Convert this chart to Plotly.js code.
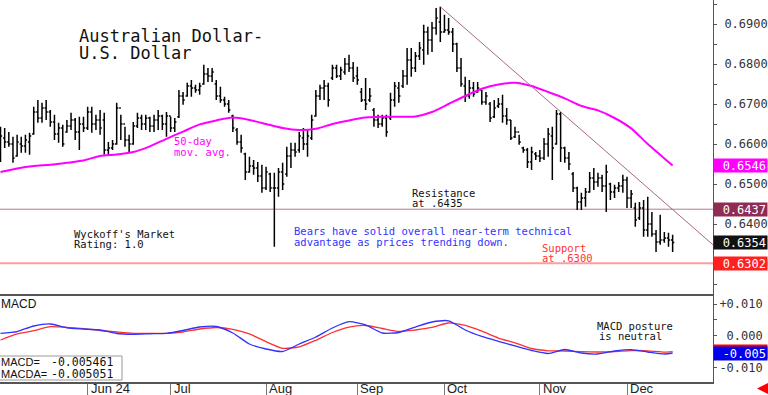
<!DOCTYPE html>
<html><head><meta charset="utf-8">
<script src="https://cdn.plot.ly/plotly-3.0.1.min.js"></script>
<style>html,body{margin:0;padding:0;background:#fff;}#chart{width:768px;height:395px;}</style>
</head><body><div id="chart"></div>
<script>
// ---------- data (AUD/USD daily bars, May 3 – Dec 17 2024, weekdays) ----------
const startDate = '2024-05-03';
const opens = [
.6560,.6615,.6605,.6600,.6570,.6600,.6595,.6605,.6625,.6680,
.6665,.6690,.6680,.6655,.6625,.6640,.6630,.6645,.6660,.6630,
.6650,.6640,.6680,.6650,.6660,.6660,.6585,.6590,.6600,.6690,
.6650,.6610,.6600,.6645,.6665,.6650,.6665,.6645,.6660,.6670,
.6650,.6670,.6640,.6668,.6720,.6720,.6745,.6740,.6735,.6750,
.6775,.6770,.6750,.6720,.6710,.6700,.6670,.6635,.6605,.6575,
.6530,.6545,.6540,.6520,.6490,.6525,.6490,.6490,.6530,.6525,
.6570,.6585,.6585,.6615,.6600,.6615,.6670,.6720,.6740,.6745,
.6765,.6790,.6770,.6780,.6800,.6790,.6770,.6730,.6710,.6710,
.6685,.6660,.6650,.6665,.6665,.6710,.6740,.6745,.6770,.6810,
.6790,.6820,.6835,.6880,.6860,.6890,.6905,.6880,.6885,.6880,
.6850,.6790,.6745,.6720,.6740,.6730,.6735,.6705,.6700,.6668,
.6695,.6700,.6670,.6660,.6618,.6630,.6590,.6585,.6555,.6575,
.6570,.6565,.6600,.6620,.6600,.6675,.6590,.6565,.6525,.6490,
.6455,.6465,.6480,.6515,.6505,.6515,.6495,.6500,.6480,.6490,
.6495,.6510,.6465,.6440,.6415,.6440,.6385,.6400,.6375,.6355,
.6360,.6365,.6360];
const highs = [
.6643,.6640,.6630,.6618,.6623,.6618,.6623,.6628,.6693,.6710,
.6703,.6710,.6685,.6673,.6653,.6648,.6660,.6678,.6665,.6668,
.6668,.6693,.6693,.6673,.6685,.6678,.6605,.6610,.6703,.6673,
.6643,.6623,.6655,.6678,.6673,.6673,.6668,.6673,.6685,.6673,
.6680,.6668,.6665,.6735,.6730,.6753,.6760,.6748,.6753,.6798,
.6790,.6790,.6760,.6743,.6718,.6710,.6673,.6640,.6623,.6578,
.6568,.6560,.6555,.6548,.6543,.6528,.6528,.6540,.6553,.6593,
.6603,.6603,.6630,.6640,.6635,.6673,.6735,.6748,.6760,.6753,
.6798,.6798,.6793,.6815,.6823,.6805,.6793,.6740,.6765,.6740,
.6690,.6673,.6673,.6673,.6728,.6755,.6755,.6785,.6840,.6840,
.6830,.6855,.6898,.6893,.6905,.6940,.6943,.6923,.6915,.6890,
.6853,.6815,.6768,.6760,.6755,.6755,.6735,.6730,.6705,.6710,
.6715,.6723,.6690,.6660,.6643,.6623,.6593,.6590,.6593,.6580,
.6585,.6615,.6640,.6643,.6685,.6680,.6593,.6580,.6530,.6493,
.6478,.6490,.6530,.6540,.6528,.6523,.6548,.6503,.6498,.6505,
.6523,.6518,.6485,.6453,.6455,.6460,.6468,.6430,.6385,.6423,
.6380,.6378,.6373];
const lows = [
.6555,.6590,.6593,.6553,.6568,.6578,.6578,.6573,.6623,.6653,
.6653,.6660,.6643,.6610,.6603,.6593,.6628,.6635,.6610,.6585,
.6630,.6635,.6628,.6635,.6623,.6573,.6573,.6585,.6598,.6610,
.6593,.6580,.6598,.6640,.6635,.6635,.6630,.6630,.6635,.6635,
.6618,.6630,.6630,.6665,.6698,.6718,.6718,.6728,.6723,.6748,
.6755,.6755,.6710,.6703,.6693,.6678,.6630,.6598,.6578,.6510,
.6528,.6523,.6505,.6478,.6485,.6480,.6343,.6468,.6485,.6518,
.6540,.6568,.6578,.6585,.6568,.6610,.6668,.6710,.6710,.6693,
.6760,.6765,.6760,.6773,.6780,.6755,.6748,.6705,.6685,.6705,
.6643,.6640,.6643,.6618,.6660,.6693,.6703,.6740,.6748,.6768,
.6780,.6810,.6798,.6823,.6830,.6873,.6855,.6878,.6873,.6830,
.6780,.6743,.6705,.6713,.6718,.6728,.6698,.6698,.6655,.6665,
.6690,.6653,.6648,.6610,.6615,.6598,.6578,.6540,.6535,.6560,
.6555,.6560,.6568,.6510,.6598,.6555,.6553,.6535,.6480,.6435,
.6435,.6443,.6478,.6485,.6493,.6480,.6430,.6460,.6465,.6480,
.6478,.6440,.6440,.6393,.6410,.6368,.6368,.6368,.6330,.6348,
.6353,.6343,.6330];
const closes = [
.6620,.6605,.6600,.6565,.6605,.6595,.6610,.6620,.6680,.6665,
.6690,.6680,.6655,.6625,.6640,.6600,.6645,.6660,.6630,.6650,
.6640,.6680,.6650,.6660,.6640,.6585,.6590,.6600,.6690,.6650,
.6610,.6600,.6645,.6665,.6650,.6665,.6645,.6660,.6670,.6650,
.6670,.6640,.6655,.6720,.6710,.6745,.6740,.6735,.6745,.6775,
.6770,.6780,.6720,.6710,.6700,.6685,.6640,.6605,.6590,.6530,
.6545,.6540,.6520,.6490,.6530,.6490,.6490,.6530,.6500,.6570,
.6585,.6580,.6620,.6600,.6620,.6660,.6720,.6740,.6745,.6710,
.6790,.6770,.6785,.6800,.6790,.6765,.6760,.6710,.6700,.6720,
.6660,.6650,.6665,.6630,.6710,.6745,.6720,.6770,.6810,.6790,
.6820,.6840,.6880,.6860,.6890,.6915,.6880,.6885,.6880,.6850,
.6790,.6750,.6720,.6740,.6725,.6740,.6705,.6720,.6665,.6690,
.6700,.6670,.6660,.6615,.6630,.6605,.6585,.6555,.6580,.6570,
.6565,.6600,.6625,.6590,.6675,.6590,.6565,.6550,.6490,.6455,
.6465,.6480,.6515,.6505,.6515,.6495,.6530,.6480,.6490,.6495,
.6510,.6465,.6475,.6410,.6440,.6385,.6400,.6375,.6355,.6360,
.6365,.6360,.6354];

// indicator readings, taken every 4th bar (bar index)
const lineIdx = [0,4,8,12,16,20,24,28,32,36,40,44,48,52,56,60,64,68,72,76,80,84,88,92,96,100,104,108,112,116,120,124,128,132,136,140,144,148,152,156,160,162];
const movAvg50 = [.6530,.6539,.6545,.6548,.6553,.6559,.6570,.6574,.6580,.6594,.6613,.6631,.6649,.6659,.6666,.6660,.6650,.6640,.6635,.6638,.6650,.6659,.6666,.6668,.6668,.6669,.6680,.6700,.6720,.6738,.6749,.6753,.6745,.6730,.6714,.6695,.6684,.6665,.6639,.6600,.6564,.6546];
const macd = [0.00076,0.00132,0.00306,0.00369,0.00249,0.00211,0.00180,0.00069,0.00044,0.00060,0.00076,0.00164,0.00274,0.00290,0.00085,-0.00262,-0.00420,-0.00498,-0.00262,-0.00041,0.00243,0.00442,0.00338,0.00085,0.00101,0.00274,0.00432,0.00470,0.00180,-0.00025,-0.00177,-0.00325,-0.00467,-0.00562,-0.00435,-0.00546,-0.00577,-0.00483,-0.00438,-0.00514,-0.00577,-0.005461];
const macdA = [-0.00136,0.00054,0.00158,0.00284,0.00265,0.00224,0.00164,0.00117,0.00076,0.00076,0.00076,0.00117,0.00211,0.00259,0.00202,0.00054,-0.00189,-0.00397,-0.00350,-0.00145,0.00101,0.00274,0.00322,0.00227,0.00132,0.00180,0.00259,0.00401,0.00322,0.00142,-0.00073,-0.00224,-0.00404,-0.00476,-0.00483,-0.00505,-0.00514,-0.00502,-0.00470,-0.00476,-0.00520,-0.005051];

const resistanceLevel = 0.6437;
const supportLevel = 0.6302;
const trendDates = ['2024-09-30', '2024-12-30 17:30'];
const trendValues = [0.6943, 0.6348];

const monthTicks = ['2024-06-03','2024-07-01','2024-08-01','2024-09-02','2024-10-01','2024-11-01','2024-12-02'];
const monthLabels = ['Jun 24','Jul','Aug','Sep','Oct','Nov','Dec'];
const xRange = ['2024-05-02 21:00','2024-12-30 17:30'];

// ---------- build ----------
function tradingDays(start, n) {
  const out = []; const d = new Date(start + 'T00:00:00Z');
  while (out.length < n) {
    const wd = d.getUTCDay();
    if (wd !== 0 && wd !== 6) out.push(d.toISOString().slice(0,10));
    d.setUTCDate(d.getUTCDate() + 1);
  }
  return out;
}
const dates = tradingDays(startDate, closes.length);
const lineDates = lineIdx.map(i => dates[i]);

const MONO = 'DejaVu Sans Mono';
const SANS = 'Liberation Sans, Arial, sans-serif';
const W = 713, H = 382;
const px = x => x / W, py = y => 1 - y / H;

const traces = [
  {type:'ohlc', x:dates, open:opens, high:highs, low:lows, close:closes, xaxis:'x', yaxis:'y',
   increasing:{line:{color:'#000', width:1.5}}, decreasing:{line:{color:'#000', width:1.5}}, tickwidth:0.4},
  {type:'scatter', mode:'lines', x:lineDates, y:movAvg50, xaxis:'x', yaxis:'y',
   line:{color:'#ff00ff', width:2, shape:'spline', smoothing:0.6}},
  {type:'scatter', mode:'lines', x:trendDates, y:trendValues, xaxis:'x', yaxis:'y',
   line:{color:'#a86a78', width:1}},
  {type:'scatter', mode:'lines', x:lineDates, y:macdA, xaxis:'x', yaxis:'y2',
   line:{color:'#ff3030', width:1.3, shape:'spline', smoothing:0.6}},
  {type:'scatter', mode:'lines', x:lineDates, y:macd, xaxis:'x', yaxis:'y2',
   line:{color:'#3030ff', width:1.3, shape:'spline', smoothing:0.6}}
];

function note(text, x, y, color, size, family) {
  return {text, xref:'paper', yref:'paper', x:px(x), y:py(y), xanchor:'left', yanchor:'middle',
          showarrow:false, font:{family: family || MONO, size, color}};
}
function valueBox(text, yval, yref, bg) {
  return {text, xref:'paper', yref, x:1, y:yval, xanchor:'left', yanchor:'middle', showarrow:false,
          bgcolor:bg, width:51, height:11, borderpad:1, align:'right',
          font:{family:MONO, size:12, color:'#fff'}};
}
const lastClose = closes[closes.length-1];
const lastMA = movAvg50[movAvg50.length-1];
const lastMacd = macd[macd.length-1], lastMacdA = macdA[macdA.length-1];

const annotations = [
  note('Australian Dollar-', 77, 36, '#111', 17),
  note('U.S. Dollar', 77, 53, '#111', 17),
  note('50-day', 172, 141.5, '#ff00ff', 10.5),
  note('mov. avg.', 172, 152, '#ff00ff', 10.5),
  note('Resistance', 410, 193, '#111', 10.5),
  note('at .6435', 410, 203, '#111', 10.5),
  note("Wyckoff's Market", 72, 234, '#111', 10.5),
  note('Rating: 1.0', 72, 244, '#111', 10.5),
  note('Bears have solid overall near-term technical', 292, 231, '#3333ff', 10.5),
  note('advantage as prices trending down.', 292, 241.5, '#3333ff', 10.5),
  note('Support', 540, 247.5, '#ff3333', 10.5),
  note('at .6300', 540, 258, '#ff3333', 10.5),
  note('MACD posture', 595, 326, '#111', 10.5),
  note('is neutral', 597, 336, '#111', 10.5),
  note('MACD', -1, 304, '#111', 12, SANS),
  note('MACD=', -1, 362, '#111', 11, SANS),
  note('MACDA=', -1, 374, '#111', 11, SANS),
  note(lastMacd.toFixed(6), 49, 362, '#111', 11.5),
  note(lastMacdA.toFixed(6), 49, 374, '#111', 11.5),
  valueBox(lastMA.toFixed(4), lastMA, 'y', '#ff00ff'),
  valueBox(resistanceLevel.toFixed(4), resistanceLevel, 'y', '#8e2c56'),
  valueBox(lastClose.toFixed(4), lastClose, 'y', '#111111'),
  valueBox(supportLevel.toFixed(4), supportLevel, 'y', '#ff2020'),
  valueBox(lastMacdA.toFixed(3), lastMacdA, 'y2', '#ff0000'),
  valueBox(lastMacd.toFixed(3), lastMacd, 'y2', '#0000ee'),
  {text:'', xref:'paper', yref:'paper', x:px(757), y:py(388.5), ax:10, ay:0, showarrow:true,
   arrowhead:2, arrowsize:1, arrowwidth:3, arrowcolor:'#ff0000'}
];
// month labels sit just right of each month-start tick, inside the date row
monthTicks.forEach((d, k) => annotations.push({
  text: monthLabels[k], xref:'x', yref:'paper', x:d, y:py(388.5), xanchor:'left', yanchor:'middle',
  xshift:1, showarrow:false, font:{family:SANS, size:13, color:'#222'}
}));

const shapes = [
  {type:'line', xref:'paper', yref:'y', x0:0, x1:1, y0:resistanceLevel, y1:resistanceLevel,
   line:{color:'#b07a92', width:1}, layer:'below'},
  {type:'line', xref:'paper', yref:'y', x0:0, x1:1, y0:supportLevel, y1:supportLevel,
   line:{color:'#ff9c9c', width:2}, layer:'below'},
  {type:'rect', xref:'paper', yref:'paper', x0:px(-2), x1:px(122), y0:py(380), y1:py(356),
   fillcolor:'#fff', line:{color:'#999', width:1}, layer:'below'}
];

const axisFont = {family:MONO, size:12, color:'#333'};
const layout = {
  width:768, height:395, margin:{l:0, r:55, t:0, b:13, pad:0},
  paper_bgcolor:'#fff', plot_bgcolor:'#fff', showlegend:false, hovermode:false,
  xaxis:{type:'date', anchor:'y2', domain:[0,1], range:xRange, rangebreaks:[{bounds:['sat','mon']}],
    rangeslider:{visible:false}, tickmode:'array', tickvals:monthTicks, showticklabels:false,
    ticks:'outside', ticklen:13, tickcolor:'#777', tickwidth:1,
    showline:true, mirror:true, linecolor:'#555', linewidth:2,
    showgrid:false, zeroline:false, automargin:false},
  yaxis:{anchor:'x', side:'right', domain:[0.2251,1], range:[0.622,0.696], dtick:0.01, tick0:0.63,
    tickformat:'.4f', ticks:'outside', ticklen:3, tickcolor:'#555', showline:true, linecolor:'#555', linewidth:1,
    minor:{dtick:0.005, ticks:'outside', ticklen:3, tickcolor:'#555'}, ticklabelstandoff:5,
    tickfont:axisFont, showgrid:false, zeroline:false, automargin:false},
  yaxis2:{anchor:'x', side:'right', domain:[0,0.2251], range:[-0.01461,0.01252], tickmode:'array',
    tickvals:[0.01,0,-0.01], ticktext:['+0.010','\u00a00.000','-0.010'], ticks:'outside', ticklen:3, tickcolor:'#555',
    minor:{tickvals:[0.005,-0.005], ticks:'outside', ticklen:3, tickcolor:'#555'}, ticklabelstandoff:0,
    showline:true, linecolor:'#555', linewidth:1, tickfont:axisFont, showgrid:false, zeroline:false, automargin:false},
  annotations, shapes
};

Plotly.newPlot('chart', traces, layout, {staticPlot:true, displayModeBar:false});
</script></body></html>
